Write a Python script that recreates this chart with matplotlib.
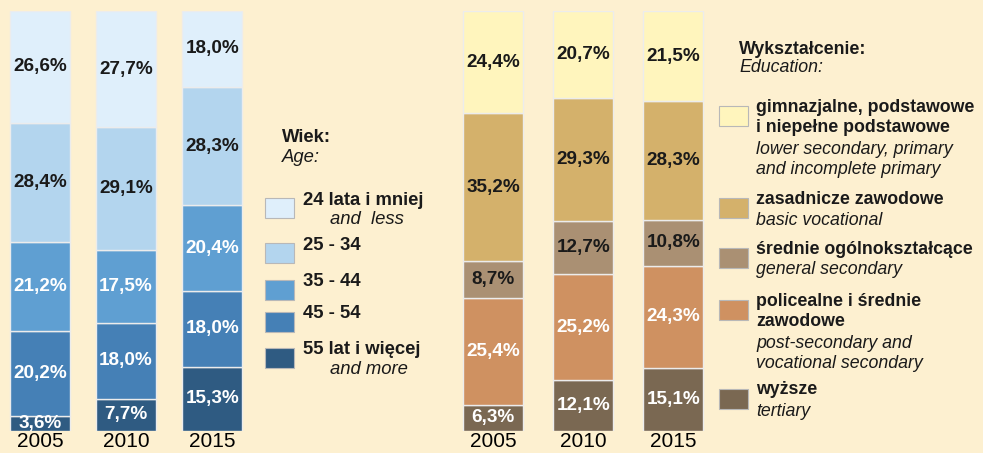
import matplotlib.pyplot as plt
from matplotlib.patches import Rectangle

plt.rcParams['font.family'] = ['Liberation Sans', 'DejaVu Sans']

years = ['2005', '2010', '2015']

# age groups, bottom to top
age_labels = ['55 lat i więcej', '45 - 54', '35 - 44', '25 - 34', '24 lata i mniej']
age_values = [
    [3.6, 7.7, 15.3],
    [20.2, 18.0, 18.0],
    [21.2, 17.5, 20.4],
    [28.4, 29.1, 28.3],
    [26.6, 27.7, 18.0],
]
age_colors = ['#2f5b82', '#4580b6', '#5f9fd2', '#b3d5ee', '#dfeffb']
age_text = ['white', 'white', 'white', '#1a1a1a', '#1a1a1a']

# education levels, bottom to top
edu_labels = ['wyższe', 'policealne i średnie zawodowe', 'średnie ogólnokształcące',
              'zasadnicze zawodowe', 'gimnazjalne, podstawowe i niepełne podstawowe']
edu_values = [
    [6.3, 12.1, 15.1],
    [25.4, 25.2, 24.3],
    [8.7, 12.7, 10.8],
    [35.2, 29.3, 28.3],
    [24.4, 20.7, 21.5],
]
edu_colors = ['#7a6852', '#cf9161', '#aa9073', '#d4b16b', '#fff5bd']
edu_text = ['white', 'white', '#1a1a1a', '#1a1a1a', '#1a1a1a']

bg = '#fdf0d0'
W, H = 983, 453
fig = plt.figure(figsize=(W / 100, H / 100), dpi=100, facecolor=bg)


def px(x, y):
    return x / W, 1 - y / H


def stacked(ax, values, colors, text_colors, width):
    x = range(len(years))
    bottom = [0, 0, 0]
    for vals, col, tc in zip(values, colors, text_colors):
        bars = ax.bar(x, vals, width, bottom=bottom, color=col, edgecolor='#ececec', linewidth=1)
        for b, v, bt in zip(bars, vals, bottom):
            ax.text(b.get_x() + b.get_width() / 2, bt + v / 2, f'{v:.1f}%'.replace('.', ','),
                    ha='center', va='center', fontsize=13.6, fontweight='bold', color=tc)
        bottom = [b + v for b, v in zip(bottom, vals)]
    ax.set_ylim(0, 100)
    ax.set_facecolor('none')
    for s in ax.spines.values():
        s.set_visible(False)
    ax.set_yticks([])
    ax.set_xticks(list(x))
    ax.set_xticklabels(years, fontsize=15)
    ax.tick_params(axis='x', length=0, pad=1)


# left panel: age
ax1 = fig.add_axes([0, 22 / H, 250 / W, 420 / H])
stacked(ax1, age_values, age_colors, age_text, 0.70)
ax1.set_xlim(-0.465, 2.44)

# right panel: education
ax2 = fig.add_axes([440 / W, 22 / H, 280 / W, 420 / H])
stacked(ax2, edu_values, edu_colors, edu_text, 0.667)
ax2.set_xlim(-0.589, 2.517)


def swatch(x, y, color):
    x0, y0 = px(x, y + 20)
    fig.patches.append(Rectangle((x0, y0), 29 / W, 20 / H, transform=fig.transFigure,
                                 facecolor=color, edgecolor='#b8b8b8', linewidth=0.8))


def txt(x, y, s, bold=True, size=13.3):
    fx, fy = px(x, y)
    fig.text(fx, fy, s, ha='left', va='center', fontsize=size, color='#1a1a1a',
             fontweight='bold' if bold else 'normal', fontstyle='normal' if bold else 'italic')


# age legend
txt(282, 138, 'Wiek:')
txt(282, 158, 'Age:', bold=False)
age_rows = [(198, ['24 lata i mniej'], ['and  less']),
            (243, ['25 - 34'], []),
            (280, ['35 - 44'], []),
            (312, ['45 - 54'], []),
            (348, ['55 lat i więcej'], ['and more'])]
for (y, pl, en), col in zip(age_rows, age_colors[::-1]):
    swatch(265, y, col)
    txt(303, y + 2, pl[0])
    for line in en:
        txt(330, y + 21, line, bold=False)

# education legend
txt(739, 49, 'Wykształcenie:', size=12.8)
txt(739, 67, 'Education:', bold=False, size=12.8)
edu_rows = [(106, ['gimnazjalne, podstawowe', 'i niepełne podstawowe'],
             ['lower secondary, primary', 'and incomplete primary']),
            (198, ['zasadnicze zawodowe'], ['basic vocational']),
            (248, ['średnie ogólnokształcące'], ['general secondary']),
            (300, ['policealne i średnie', 'zawodowe'], ['post-secondary and', 'vocational secondary']),
            (389, ['wyższe'], ['tertiary'])]
for (y, pl, en), col in zip(edu_rows, edu_colors[::-1]):
    swatch(719, y, col)
    yy = y + 1
    for line in pl:
        txt(756, yy, line, size=12.8)
        yy += 21
    for line in en:
        txt(756, yy, line, bold=False, size=12.8)
        yy += 21

fig.savefig('out.png', dpi=100, facecolor=bg)
